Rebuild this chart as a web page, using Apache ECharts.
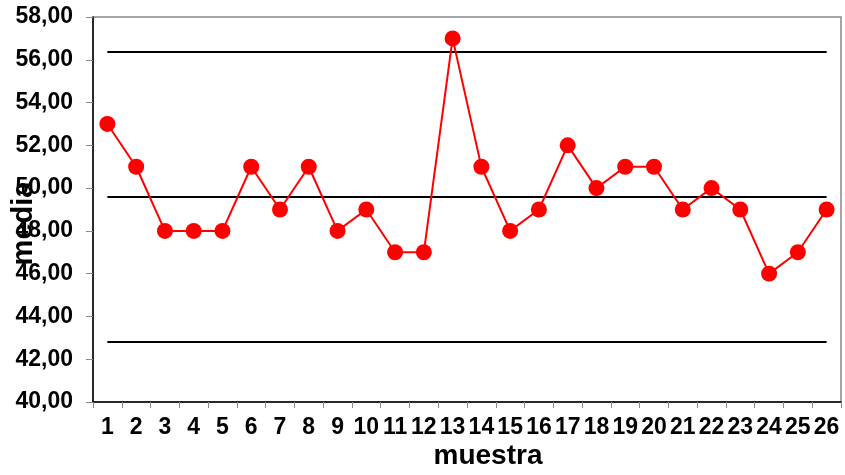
<!DOCTYPE html>
<html>
<head>
<meta charset="utf-8">
<script src="https://cdn.jsdelivr.net/npm/echarts@6/dist/echarts.min.js"></script>
<style>html,body{margin:0;padding:0;background:#fff;}#c{width:845px;height:475px;}</style>
</head>
<body>
<div id="c"></div>
<script>
var categories = ['1','2','3','4','5','6','7','8','9','10','11','12','13','14','15','16','17','18','19','20','21','22','23','24','25','26'];
var medias = [53,51,48,48,48,51,49,51,48,49,47,47,57,51,48,49,52,50,51,51,49,50,49,46,47,49];
var ucl = 56.36;
var cl = 49.58;
var lcl = 42.80;
var yMin = 40, yMax = 58, yStep = 2;

function hLine(v){
  return [{coord:[categories[0], v]},{coord:[categories[categories.length-1], v]}];
}

var chart = echarts.init(document.getElementById('c'));
chart.setOption({
  animation:false,
  grid:{left:93,right:4,top:17,bottom:73,containLabel:false,outerBoundsMode:'none',show:true,borderColor:'#888',borderWidth:1.5,backgroundColor:'#fff'},
  xAxis:{
    type:'category',data:categories,boundaryGap:true,
    name:'muestra',nameLocation:'middle',nameGap:40,nameMoveOverlap:false,
    nameTextStyle:{fontFamily:'Liberation Sans, Arial',fontWeight:'bold',fontSize:28,color:'#000',padding:[0,0,0,42]},
    axisLine:{lineStyle:{color:'#000',width:1.5}},
    axisTick:{show:true,length:6,lineStyle:{color:'#888'}},
    axisLabel:{interval:0,margin:14,fontFamily:'Liberation Sans, Arial',fontWeight:'bold',fontSize:23,color:'#000',hideOverlap:false},
    splitLine:{show:false}
  },
  yAxis:{
    type:'value',min:yMin,max:yMax,interval:yStep,
    name:'media',nameLocation:'middle',nameGap:55,nameMoveOverlap:false,
    nameTextStyle:{fontFamily:'Liberation Sans, Arial',fontWeight:'bold',fontSize:29,color:'#000',padding:[0,28,0,0]},
    axisLine:{show:true,lineStyle:{color:'#000',width:1.5}},
    axisTick:{show:true,length:7,lineStyle:{color:'#888'}},
    axisLabel:{margin:20,fontFamily:'Liberation Sans, Arial',fontWeight:'bold',fontSize:23,color:'#000',
      formatter:function(v){return v.toFixed(2).replace('.',',');}},
    splitLine:{show:false}
  },
  series:[{
    type:'line',data:medias,
    symbol:'circle',symbolSize:16,
    itemStyle:{color:'#ff0000'},
    lineStyle:{color:'#ff0000',width:2},
    z:5,
    markLine:{
      silent:true,symbol:['none','none'],label:{show:false},
      lineStyle:{color:'#000',width:2,type:'solid'},
      z:2,
      data:[hLine(ucl),hLine(cl),hLine(lcl)]
    }
  }]
});
</script>
</body>
</html>
